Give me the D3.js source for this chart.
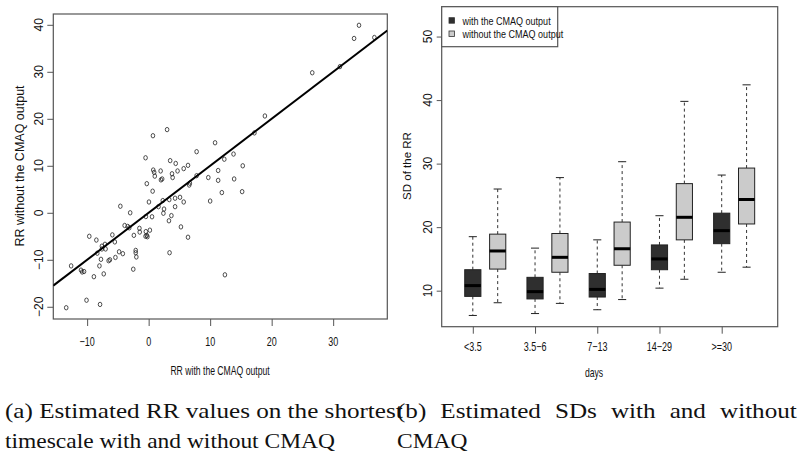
<!DOCTYPE html>
<html><head><meta charset="utf-8">
<script src="https://cdn.jsdelivr.net/npm/d3@7"></script>
<style>body{margin:0;background:#fff}svg{display:block}</style>
</head><body>
<svg id="c" width="800" height="461"></svg>
<script>
// ---------- data: panel (a) scatter ----------
const rrWith = [34.2,33.4,36.7,31.1,26.6,18.9,17.2,0.7,3.0,-0.5,7.8,10.8,13.8,12.3,15.3,3.5,4.4,6.4,5.7,4.7,1.95,0.75,0.9,1.0,3.8,11.3,7.8,2.2,2.0,3.9,9.7,11.3,13.9,11.9,15.2,10.0,6.7,6.6,-0.3,0.65,0.05,1.6,2.3,3.35,4.3,5.1,5.7,4.3,2.5,2.4,3.7,3.3,5.25,6.4,3.4,-4.6,-3.0,-0.45,0.55,-3.9,-3.4,-3.15,-1.5,-1.45,-0.45,0.2,-0.3,-0.5,-0.2,-2.4,-5.9,-5.5,-2.1,-2.1,-2.0,-2.5,-4.8,-4.2,-5.4,-6.5,-6.3,-7.3,-8.9,-7.75,-8.0,-9.65,-8.5,-8.35,-7.6,-7.1,-7.6,-7.0,-12.6,-11.0,-10.5,-10.8,-10.1,-7.9,-13.4,12.4];
const rrWithout = [39.9,37.1,37.3,31.1,29.8,20.6,17.0,16.4,17.7,11.7,13.0,14.9,12.5,11.4,10.0,11.1,10.5,10.1,9.4,8.9,8.9,9.1,8.6,7.8,8.3,9.0,7.9,7.2,7.0,7.5,7.5,6.9,7.2,4.3,4.5,2.5,6.3,5.9,6.2,4.6,2.3,1.3,2.6,2.8,3.1,3.3,2.3,1.3,0.8,-0.1,-0.6,-1.7,-3.0,-5.2,-8.5,1.4,0.0,-0.8,-0.85,-2.7,-2.9,-3.2,-3.3,-4.1,-4.0,-3.7,-4.8,-5.0,-5.1,-4.8,-4.7,-6.2,-8.0,-8.5,-9.4,-12.0,-8.3,-8.7,-9.5,-10.2,-10.0,-13.0,-13.6,-9.9,-11.3,-5.0,-5.8,-8.6,-7.7,-6.7,-7.1,-7.7,-11.3,-12.2,-12.5,-12.6,-18.6,-19.5,-20.2,-13.2];
const refLine = {intercept: 0, slope: 1};
const scatterXTicks = [-10, 0, 10, 20, 30];
const scatterYTicks = [-20, -10, 0, 10, 20, 30, 40];

// ---------- data: panel (b) boxplots ----------
const dayCategories = ["<3.5", "3.5\u22126", "7\u221213", "14\u221229", ">=30"];
const withLow  = [6.1, 6.4, 7.0, 10.4, 12.9];
const withQ1   = [9.1, 8.7, 9.0, 13.3, 17.4];
const withMed  = [10.8, 9.85, 10.2, 15.0, 19.45];
const withQ3   = [13.3, 12.1, 12.7, 17.2, 22.2];
const withHigh = [18.5, 16.7, 18.0, 21.8, 28.2];
const woLow    = [8.1, 8.0, 8.6, 11.8, 13.7];
const woQ1     = [13.4, 12.9, 14.0, 18.0, 20.5];
const woMed    = [16.25, 15.25, 16.6, 21.55, 24.35];
const woQ3     = [18.9, 19.0, 20.8, 26.85, 29.3];
const woHigh   = [26.0, 27.8, 30.3, 39.8, 42.4];
const boxYTicks = [10, 20, 30, 40, 50];
const legendLabels = ["with the CMAQ output", "without the CMAQ output"];

// ---------- drawing ----------
const svg = d3.select("#c");
const sans = "'Liberation Sans', Arial, sans-serif";
const frameCol = "#555";

function ctext(g, x, y, txt, size, sx, anchor, rot) {
  return g.append("text")
    .attr("transform", `translate(${x},${y})` + (rot ? ` rotate(${rot})` : "") + ` scale(${sx},1)`)
    .attr("text-anchor", anchor || "middle")
    .attr("font-family", sans).attr("font-size", size).attr("fill", "#111")
    .text(txt);
}

// Panel (a)
const xA = d3.scaleLinear().domain([-15.5, 38.8]).range([53.3, 387.3]);
const yA = d3.scaleLinear().domain([-22.6, 42.3]).range([319, 14]);
const gA = svg.append("g");
gA.append("defs").append("clipPath").attr("id", "clipA").append("rect")
  .attr("x", xA.range()[0]).attr("y", yA.range()[1])
  .attr("width", xA.range()[1] - xA.range()[0]).attr("height", yA.range()[0] - yA.range()[1]);

const axAx = gA.append("g").attr("transform", `translate(0,${yA.range()[0]})`)
  .call(d3.axisBottom(xA).tickValues(scatterXTicks).tickSize(7).tickFormat(() => ""));
const axAy = gA.append("g").attr("transform", `translate(${xA.range()[0]},0)`)
  .call(d3.axisLeft(yA).tickValues(scatterYTicks).tickSize(6).tickFormat(() => ""));
[axAx, axAy].forEach(a => { a.select(".domain").remove(); a.selectAll("line").attr("stroke", frameCol); });
scatterXTicks.forEach(v => ctext(gA, xA(v), 346, String(v).replace("-", "\u2212"), 12.5, 0.72));
scatterYTicks.forEach(v => ctext(gA, 43, yA(v), String(v).replace("-", "\u2212"), 12, 1, "middle", -90));
ctext(gA, 220, 375, "RR with the CMAQ output", 12, 0.72);
ctext(gA, 24, 166, "RR without the CMAQ output", 12.5, 1, "middle", -90);

gA.append("rect").attr("x", xA.range()[0]).attr("y", yA.range()[1])
  .attr("width", xA.range()[1] - xA.range()[0]).attr("height", yA.range()[0] - yA.range()[1])
  .attr("fill", "none").attr("stroke", frameCol).attr("stroke-width", 1.2);

const pts = rrWith.map((x, i) => ({x, y: rrWithout[i]}));
gA.append("g").selectAll("ellipse").data(pts).join("ellipse")
  .attr("cx", d => xA(d.x)).attr("cy", d => yA(d.y)).attr("rx", 1.8).attr("ry", 2.2)
  .attr("fill", "none").attr("stroke", "#222").attr("stroke-width", 0.8);

const [lx0, lx1] = xA.domain();
gA.append("line").attr("clip-path", "url(#clipA)")
  .attr("x1", xA(lx0)).attr("y1", yA(refLine.intercept + refLine.slope * lx0))
  .attr("x2", xA(lx1)).attr("y2", yA(refLine.intercept + refLine.slope * lx1))
  .attr("stroke", "#000").attr("stroke-width", 2);

// Panel (b)
const xB = d3.scaleLinear().domain([0.5, 5.9]).range([441.7, 777.7]);
const yB = d3.scaleLinear().domain([4.33, 54.7]).range([326.7, 6.7]);
const gB = svg.append("g");
const axBx = gB.append("g").attr("transform", `translate(0,${yB.range()[0]})`)
  .call(d3.axisBottom(xB).tickValues(d3.range(1, dayCategories.length + 1)).tickSize(7).tickFormat(() => ""));
const axBy = gB.append("g").attr("transform", `translate(${xB.range()[0]},0)`)
  .call(d3.axisLeft(yB).tickValues(boxYTicks).tickSize(5).tickFormat(() => ""));
[axBx, axBy].forEach(a => { a.select(".domain").remove(); a.selectAll("line").attr("stroke", frameCol); });
dayCategories.forEach((c, i) => ctext(gB, xB(i + 1), 351, c, 12.5, 0.72));
boxYTicks.forEach(v => ctext(gB, 432, yB(v), String(v), 12, 1, "middle", -90));
ctext(gB, 594, 377, "days", 12, 0.72);
ctext(gB, 411, 166, "SD of the RR", 11.5, 1, "middle", -90);

gB.append("rect").attr("x", xB.range()[0]).attr("y", yB.range()[1])
  .attr("width", xB.range()[1] - xB.range()[0]).attr("height", yB.range()[0] - yB.range()[1])
  .attr("fill", "none").attr("stroke", frameCol).attr("stroke-width", 1.2);

const half = 0.13;
function drawBoxes(low, q1, med, q3, high, offset, fill) {
  const data = low.map((v, i) => ({pos: i + 1 + offset, low: v, q1: q1[i], med: med[i], q3: q3[i], high: high[i]}));
  const bx = gB.append("g").selectAll("g").data(data).join("g");
  bx.append("line").attr("x1", d => xB(d.pos)).attr("x2", d => xB(d.pos))
    .attr("y1", d => yB(d.q3)).attr("y2", d => yB(d.high))
    .attr("stroke", "#333").attr("stroke-dasharray", "3,3");
  bx.append("line").attr("x1", d => xB(d.pos)).attr("x2", d => xB(d.pos))
    .attr("y1", d => yB(d.q1)).attr("y2", d => yB(d.low))
    .attr("stroke", "#333").attr("stroke-dasharray", "3,3");
  bx.selectAll(".cap").data(d => [d.low, d.high].map(v => ({pos: d.pos, v}))).join("line")
    .attr("x1", d => xB(d.pos - half / 2)).attr("x2", d => xB(d.pos + half / 2))
    .attr("y1", d => yB(d.v)).attr("y2", d => yB(d.v)).attr("stroke", "#222").attr("stroke-width", 1);
  bx.append("rect").attr("x", d => xB(d.pos - half)).attr("width", d => xB(d.pos + half) - xB(d.pos - half))
    .attr("y", d => yB(d.q3)).attr("height", d => yB(d.q1) - yB(d.q3))
    .attr("fill", fill).attr("stroke", "#222").attr("stroke-width", 1);
  bx.append("line").attr("x1", d => xB(d.pos - half)).attr("x2", d => xB(d.pos + half))
    .attr("y1", d => yB(d.med)).attr("y2", d => yB(d.med)).attr("stroke", "#000").attr("stroke-width", 3);
}
drawBoxes(withLow, withQ1, withMed, withQ3, withHigh, 0, "#2f2f2f");
drawBoxes(woLow, woQ1, woMed, woQ3, woHigh, 0.4, "#cbcbcb");

// legend
const lg = gB.append("g");
lg.append("rect").attr("x", xB.range()[0]).attr("y", yB.range()[1]).attr("width", 116).attr("height", 40)
  .attr("fill", "#fff").attr("stroke", frameCol).attr("stroke-width", 1.2);
const fills = ["#2f2f2f", "#cbcbcb"];
legendLabels.forEach((l, i) => {
  lg.append("rect").attr("x", 449).attr("y", 17.7 + i * 13.3).attr("width", 5.5).attr("height", 5.5)
    .attr("fill", fills[i]).attr("stroke", "#333").attr("stroke-width", 0.8);
  ctext(lg, 462.5, 24.5 + i * 13.3, l, 11, 0.82, "start");
});

// captions (serif; lines fitted to the original widths, line b1 justified)
const serif = "'Liberation Serif', 'DejaVu Serif', serif";
const caps = [
  {t: "(a) Estimated RR values on the shortest", x: 5, y: 418, w: 398, mode: "fit"},
  {t: "timescale with and without CMAQ", x: 5, y: 448, w: 330, mode: "fit"},
  {t: "(b) Estimated SDs with and without", x: 397, y: 418, w: 400, mode: "just"},
  {t: "CMAQ", x: 397, y: 448, w: 0, mode: "same"}
];
const capG = svg.append("g");
const capNodes = caps.map(d => capG.append("text").attr("font-family", serif).attr("font-size", 22)
    .attr("fill", "#111").attr("x", 0).attr("y", 0).text(d.t));
const s1 = caps[0].w / capNodes[0].node().getComputedTextLength();
const s2 = caps[1].w / capNodes[1].node().getComputedTextLength();
caps.forEach((d, i) => {
  const t = capNodes[i];
  const nat = t.node().getComputedTextLength();
  let s = d.mode === "fit" ? d.w / nat : (d.mode === "just" ? s1 : s2);
  if (d.mode === "just") {
    const nSp = (d.t.match(/ /g) || []).length;
    t.attr("word-spacing", ((d.w - nat * s) / nSp) / s);
  }
  t.attr("transform", `translate(${d.x},${d.y}) scale(${s},1)`);
});
</script>
</body></html>
